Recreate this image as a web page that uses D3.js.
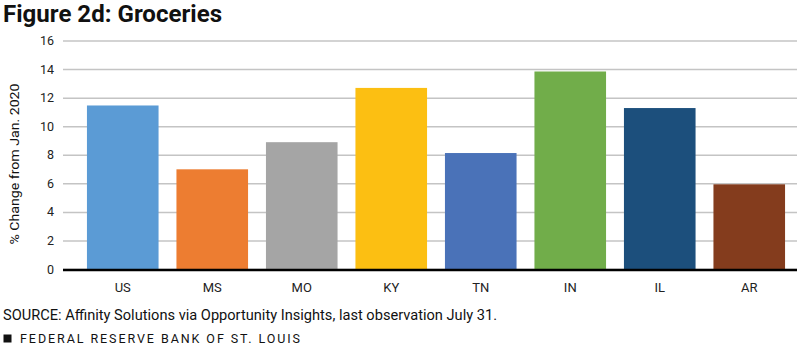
<!DOCTYPE html>
<html>
<head>
<meta charset="utf-8">
<script src="https://cdn.jsdelivr.net/npm/d3@7"></script>
<style>
  html, body { margin: 0; padding: 0; background: #fff; }
  svg { display: block; font-family: Roboto, "Noto Sans", sans-serif; }
</style>
</head>
<body>
<svg id="chart" width="800" height="345"></svg>
<script>
// Grocery spending change by state
const categories = ["US", "MS", "MO", "KY", "TN", "IN", "IL", "AR"];
const values = [11.45, 6.98, 8.88, 12.68, 8.12, 13.83, 11.27, 5.93];
const colors = ["#5B9BD5", "#ED7D31", "#A5A5A5", "#FCBF12", "#4A72B8", "#71AD4A", "#1C4F7C", "#843C1D"];
const yTicks = [0, 2, 4, 6, 8, 10, 12, 14, 16];

const svg = d3.select("#chart");

const plot = { left: 63, right: 797, top: 40.5, bottom: 269 };

const x = d3.scaleBand()
  .domain(categories)
  .range([78, 794])
  .paddingInner(0.2)
  .paddingOuter(0.1);

const y = d3.scaleLinear()
  .domain([0, 16])
  .range([plot.bottom, plot.top]);

// Title
svg.append("text")
  .attr("x", 3)
  .attr("y", 21.5)
  .attr("font-size", 23)
  .attr("font-weight", 700)
  .attr("textLength", 219)
  .attr("lengthAdjust", "spacingAndGlyphs")
  .attr("fill", "#111")
  .text("Figure 2d: Groceries");

// Horizontal gridlines and value axis labels
const yAxis = d3.axisLeft(y)
  .tickValues(yTicks)
  .tickSize(-(plot.right - plot.left))
  .tickPadding(9)
  .tickFormat(d3.format("d"));

const gy = svg.append("g")
  .attr("transform", `translate(${plot.left},0)`)
  .call(yAxis);
gy.select(".domain").remove();
gy.selectAll(".tick line")
  .attr("stroke", "#c4c4c4")
  .attr("stroke-width", 1.5);
gy.selectAll(".tick text")
  .attr("font-size", 12.5)
  .attr("fill", "#222")
  .attr("font-family", "Roboto, sans-serif");

// Bars
svg.append("g")
  .selectAll("rect")
  .data(categories)
  .join("rect")
  .attr("x", d => x(d))
  .attr("width", x.bandwidth())
  .attr("y", (d, i) => y(values[i]))
  .attr("height", (d, i) => y(0) - y(values[i]))
  .attr("fill", (d, i) => colors[i]);

// Baseline
svg.append("line")
  .attr("x1", plot.left)
  .attr("x2", plot.right)
  .attr("y1", y(0) + 1)
  .attr("y2", y(0) + 1)
  .attr("stroke", "#000")
  .attr("stroke-width", 2.5);

// Category labels
const xAxis = d3.axisBottom(x).tickSize(0).tickPadding(14);
const gx = svg.append("g")
  .attr("transform", `translate(0,${plot.bottom})`)
  .call(xAxis);
gx.select(".domain").remove();
gx.selectAll(".tick text")
  .attr("font-size", 13)
  .attr("fill", "#222")
  .attr("font-family", "Roboto, sans-serif");

// Value axis title
svg.append("text")
  .attr("transform", "translate(19,164) rotate(-90)")
  .attr("text-anchor", "middle")
  .attr("font-size", 13.5)
  .attr("textLength", 161)
  .attr("lengthAdjust", "spacingAndGlyphs")
  .attr("fill", "#111")
  .text("% Change from Jan. 2020");

// Source note
svg.append("text")
  .attr("x", 3)
  .attr("y", 320)
  .attr("font-size", 14.5)
  .attr("textLength", 494)
  .attr("lengthAdjust", "spacingAndGlyphs")
  .attr("fill", "#111")
  .text("SOURCE: Affinity Solutions via Opportunity Insights, last observation July 31.");

// Footer
svg.append("rect")
  .attr("x", 3.5)
  .attr("y", 334.5)
  .attr("width", 8)
  .attr("height", 8)
  .attr("fill", "#111");
svg.append("text")
  .attr("x", 20)
  .attr("y", 342.5)
  .attr("font-size", 12.5)
  .attr("textLength", 280)
  .attr("lengthAdjust", "spacing")
  .attr("fill", "#111")
  .text("FEDERAL RESERVE BANK OF ST. LOUIS");
</script>
</body>
</html>
